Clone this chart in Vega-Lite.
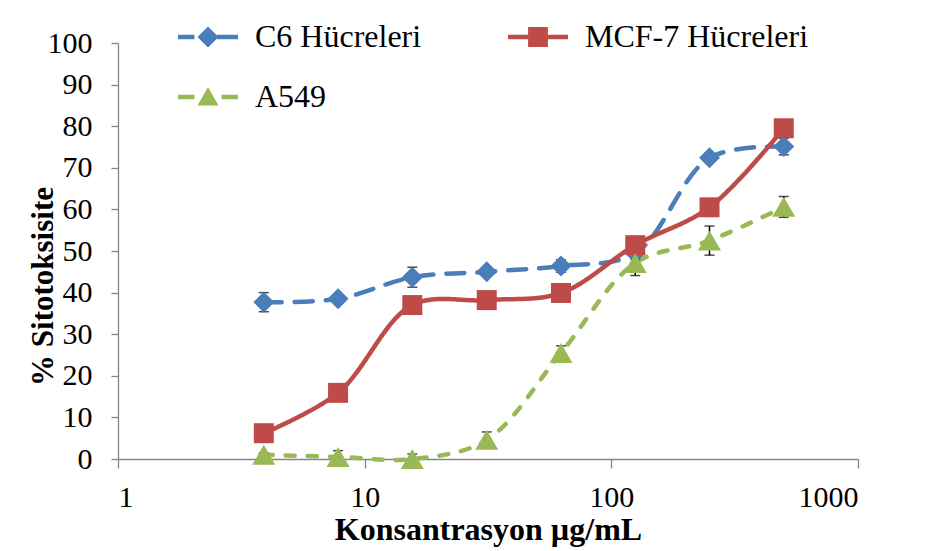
{
  "$schema": "https://vega.github.io/schema/vega-lite/v6.json",
  "width": 740,
  "height": 416,
  "autosize": "none",
  "padding": {"left": 118, "top": 43, "right": 71, "bottom": 92},
  "background": "white",
  "config": {
    "view": {"stroke": null},
    "font": "Liberation Serif",
    "axis": {
      "labelFont": "Liberation Serif",
      "labelFontSize": 30,
      "labelColor": "#000000",
      "titleFont": "Liberation Serif",
      "titleFontSize": 31,
      "titleFontWeight": "bold",
      "titleColor": "#000000",
      "domainColor": "#868686",
      "domainWidth": 1.3,
      "tickColor": "#868686",
      "tickWidth": 1.3,
      "grid": false
    },
    "legend": {"labelFont": "Liberation Serif"}
  },
  "data": {
    "values": [
      {"series": "C6 Hücreleri", "conc": 3.9, "value": 37.7, "err": 2.3},
      {"series": "C6 Hücreleri", "conc": 7.8, "value": 38.5, "err": 0.8},
      {"series": "C6 Hücreleri", "conc": 15.6, "value": 43.7, "err": 2.4},
      {"series": "C6 Hücreleri", "conc": 31.25, "value": 45.0, "err": 0.8},
      {"series": "C6 Hücreleri", "conc": 62.5, "value": 46.4, "err": 1.5},
      {"series": "C6 Hücreleri", "conc": 125, "value": 49.5, "err": 1.5},
      {"series": "C6 Hücreleri", "conc": 250, "value": 72.4, "err": 0.8},
      {"series": "C6 Hücreleri", "conc": 500, "value": 75.1, "err": 2.0},
      {"series": "MCF-7 Hücreleri", "conc": 3.9, "value": 6.2, "err": 0.8},
      {"series": "MCF-7 Hücreleri", "conc": 7.8, "value": 15.9, "err": 0.8},
      {"series": "MCF-7 Hücreleri", "conc": 15.6, "value": 37.0, "err": 0.8},
      {"series": "MCF-7 Hücreleri", "conc": 31.25, "value": 38.2, "err": 0.8},
      {"series": "MCF-7 Hücreleri", "conc": 62.5, "value": 39.9, "err": 0.8},
      {"series": "MCF-7 Hücreleri", "conc": 125, "value": 51.4, "err": 0.8},
      {"series": "MCF-7 Hücreleri", "conc": 250, "value": 60.5, "err": 0.8},
      {"series": "MCF-7 Hücreleri", "conc": 500, "value": 79.5, "err": 0.8},
      {"series": "A549", "conc": 3.9, "value": 1.0, "err": 0.5},
      {"series": "A549", "conc": 7.8, "value": 0.5, "err": 1.5},
      {"series": "A549", "conc": 15.6, "value": 0.0, "err": 1.2},
      {"series": "A549", "conc": 31.25, "value": 4.6, "err": 1.9},
      {"series": "A549", "conc": 62.5, "value": 25.5, "err": 1.7},
      {"series": "A549", "conc": 125, "value": 47.1, "err": 3.0},
      {"series": "A549", "conc": 250, "value": 52.5, "err": 3.5},
      {"series": "A549", "conc": 500, "value": 60.6, "err": 2.5}
    ]
  },
  "encoding": {
    "x": {
      "field": "conc",
      "type": "quantitative",
      "scale": {"type": "log", "domain": [1, 1000], "nice": false},
      "axis": {
        "values": [1, 10, 100, 1000],
        "format": "d",
        "title": "Konsantrasyon µg/mL",
        "titleFontSize": 32,
        "tickSize": 9,
        "labelPadding": 14,
        "titlePadding": 2
      }
    },
    "y": {
      "field": "value",
      "type": "quantitative",
      "scale": {"domain": [0, 100], "nice": false, "zero": true},
      "axis": {
        "values": [0, 10, 20, 30, 40, 50, 60, 70, 80, 90, 100],
        "title": "% Sitotoksisite",
        "tickSize": 7,
        "labelPadding": 19,
        "titleX": -66,
        "titleY": 243,
        "titleBaseline": "alphabetic",
        "titleAlign": "center",
        "titleAngle": -90
      }
    }
  },
  "layer": [
    {
      "mark": {"type": "point", "filled": true, "opacity": 1, "size": 0, "strokeWidth": 0},
      "encoding": {
        "color": {
          "field": "series",
          "type": "nominal",
          "scale": {"domain": ["C6 Hücreleri", "MCF-7 Hücreleri", "A549"], "range": ["#4A7EBB", "#BE4B48", "#98B954"]},
          "legend": {
            "title": null,
            "orient": "none",
            "legendX": 60,
            "legendY": -36,
            "columns": 2,
            "direction": "horizontal",
            "padding": 0,
            "columnPadding": 86,
            "rowPadding": 14,
            "symbolSize": 3600,
            "symbolStrokeWidth": 0,
            "symbolOpacity": 1,
            "labelFont": "Liberation Serif",
            "labelFontSize": 32,
            "labelColor": "#000000",
            "labelOffset": 17,
            "labelLimit": 400
          }
        },
        "shape": {
          "field": "series",
          "type": "nominal",
          "scale": {
            "domain": ["C6 Hücreleri", "MCF-7 Hücreleri", "A549"],
            "range": [
              "M-1,-0.077L-0.45,-0.077L-0.45,0.077L-1,0.077Z M0,-0.35L0.35,0L0,0.35L-0.35,0Z M0.3,-0.077L1,-0.077L1,0.077L0.3,0.077Z",
              "M-1,-0.077L1,-0.077L1,0.077L-1,0.077Z M-0.33,-0.33L0.33,-0.33L0.33,0.33L-0.33,0.33Z",
              "M-1,-0.077L-0.45,-0.077L-0.45,0.077L-1,0.077Z M0,-0.33L0.35,0.28L-0.35,0.28Z M0.45,-0.077L1,-0.077L1,0.077L0.45,0.077Z"
            ]
          },
          "legend": {
            "title": null,
            "orient": "none",
            "legendX": 60,
            "legendY": -36,
            "columns": 2,
            "direction": "horizontal",
            "padding": 0,
            "columnPadding": 86,
            "rowPadding": 14,
            "symbolSize": 3600,
            "symbolStrokeWidth": 0,
            "symbolOpacity": 1,
            "labelFont": "Liberation Serif",
            "labelFontSize": 32,
            "labelColor": "#000000",
            "labelOffset": 17,
            "labelLimit": 400
          }
        }
      }
    },
    {
      "mark": {"type": "line", "interpolate": "catmull-rom", "strokeWidth": 4.5, "strokeCap": "round"},
      "encoding": {
        "stroke": {
          "field": "series",
          "type": "nominal",
          "scale": {"domain": ["C6 Hücreleri", "MCF-7 Hücreleri", "A549"], "range": ["#4A7EBB", "#BE4B48", "#98B954"]},
          "legend": null
        },
        "strokeDash": {
          "field": "series",
          "type": "nominal",
          "scale": {"domain": ["C6 Hücreleri", "MCF-7 Hücreleri", "A549"], "range": [[18, 13], [1, 0], [9, 13]]},
          "legend": null
        }
      }
    },
    {
      "mark": {"type": "errorbar", "color": "black", "thickness": 1.5, "ticks": {"size": 10, "color": "black", "thickness": 1.5}},
      "encoding": {
        "yError": {"field": "err"}
      }
    },
    {
      "mark": {"type": "point", "filled": true, "opacity": 1, "strokeWidth": 0},
      "encoding": {
        "fill": {
          "field": "series",
          "type": "nominal",
          "scale": {"domain": ["C6 Hücreleri", "MCF-7 Hücreleri", "A549"], "range": ["#4A7EBB", "#BE4B48", "#98B954"]},
          "legend": null
        },
        "shape": {
          "condition": [
            {"test": "datum.series === 'MCF-7 Hücreleri'", "value": "square"},
            {"test": "datum.series === 'A549'", "value": "triangle-up"}
          ],
          "value": "diamond"
        },
        "size": {
          "condition": [
            {"test": "datum.series === 'A549'", "value": 530},
            {"test": "datum.series === 'C6 Hücreleri'", "value": 440}
          ],
          "value": 400
        }
      }
    }
  ]
}
